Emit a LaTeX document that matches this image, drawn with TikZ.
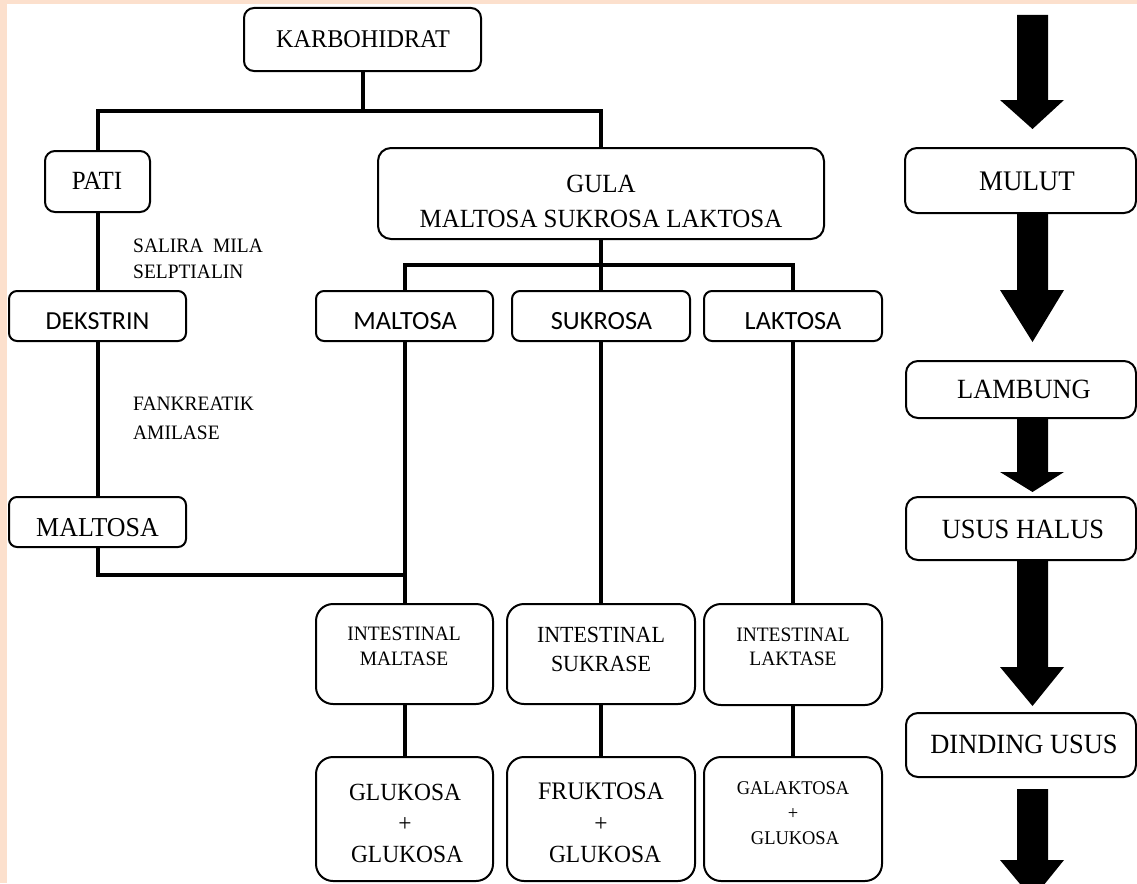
\documentclass[tikz,border=0pt]{standalone}
\usepackage{fontspec}
\setmainfont[FakeStretch=0.95]{Liberation Serif}
\newfontfamily\fsans{Carlito}
\usetikzlibrary{backgrounds}
\definecolor{peach}{RGB}{252,224,205}

% rounded box given by its corners: name, x1, y1, x2, y2, corner radius
\newcommand\rbox[6]{%
  \node[box, rounded corners=#6, minimum width={#4-#2}, minimum height={#5-#3}] (#1) at (#2,#3) {};}
% block arrow of the right column: shaft top, head start, tip
\newcommand\blockarrow[3]{%
  \fill[black] (1017,#1) -- (1048,#1) -- (1048,#2) -- (1064,#2) -- (1032.5,#3)
    -- (1000,#2) -- (1017,#2) -- cycle;}
% serif sizes are given as the width-matched size, enlarged for the narrowed face
\newcommand\fs[1]{\fontsize{\fpeval{#1*1.05}pt}{#1pt}\selectfont}
\newcommand\fss[1]{\fontsize{#1pt}{#1pt}\selectfont}

\begin{document}
\begin{tikzpicture}[x=1pt,y=-1pt,
  box/.style={draw=black, fill=white, line width=2pt, inner sep=0pt, outer sep=0pt, anchor=north west},
  txt/.style={inner sep=0pt, anchor=base},
  lbl/.style={inner sep=0pt, anchor=base west, font=\fs{19.5}},
  conn/.style={draw=black, line width=4pt, line join=miter}]
\useasboundingbox (0,0) rectangle (1137,883);
\clip (0,0) rectangle (1137,883);

% boxes of the classification tree
\rbox{kar}{244}{8}{481}{71}{10pt}
\rbox{pati}{45}{151}{150}{212}{10pt}
\rbox{gula}{378}{148}{824}{239}{13pt}
\rbox{dek}{9}{291}{186}{341}{8pt}
\rbox{malL}{9}{497}{186}{547}{8pt}
\rbox{malt}{316}{291}{493}{341}{8pt}
\rbox{sukr}{512}{291}{690}{341}{8pt}
\rbox{lakt}{704}{291}{882}{341}{8pt}
\rbox{im}{316}{604}{493}{704}{17pt}
\rbox{is}{507}{604}{695}{704}{17pt}
\rbox{il}{704}{604}{882}{705}{17pt}
\rbox{gg}{316}{757}{493}{881}{17pt}
\rbox{fg}{507}{757}{695}{881}{17pt}
\rbox{gl}{704}{757}{882}{881}{17pt}

% boxes of the digestive route
\rbox{mulut}{905}{148}{1136}{213}{12pt}
\rbox{lambung}{906}{361}{1136}{418}{12pt}
\rbox{usus}{906}{497}{1136}{560}{12pt}
\rbox{dinding}{906}{713}{1136}{777}{12pt}

% texts
\node[txt, font=\fs{24.3}] (karT) at (363,48) {KARBOHIDRAT};
\node[txt, font=\fs{25}] (patiT) at (97,189) {PATI};
\node[txt, font=\fs{25}] (gulaT1) at (601,192) {GULA};
\node[txt, font=\fs{25}] (gulaT2) at (601,227) {MALTOSA SUKROSA LAKTOSA};
\node[lbl] (enz1a) at (133,252) {SALIRA\ \ MILA};
\node[lbl] (enz1b) at (133,278) {SELPTIALIN};
\node[lbl] (enz2a) at (133,410) {FANKREATIK};
\node[lbl] (enz2b) at (133,439) {AMILASE};
\node[txt, font=\fsans\fss{26}] (dekT) at (97.5,329) {DEKSTRIN};
\node[txt, font=\fs{26}] (malLT) at (97.5,536) {MALTOSA};
\node[txt, font=\fsans\fss{26.3}] (maltT) at (405,329) {MALTOSA};
\node[txt, font=\fsans\fss{26.3}] (sukrT) at (601.5,329) {SUKROSA};
\node[txt, font=\fsans\fss{26.3}] (laktT) at (793,329) {LAKTOSA};
\node[txt, font=\fs{19.5}] (imT1) at (404,640) {INTESTINAL};
\node[txt, font=\fs{19.5}] (imT2) at (404,665) {MALTASE};
\node[txt, font=\fs{22}] (isT1) at (601,642) {INTESTINAL};
\node[txt, font=\fs{22}] (isT2) at (601,671) {SUKRASE};
\node[txt, font=\fs{19.5}] (ilT1) at (793,641) {INTESTINAL};
\node[txt, font=\fs{19.5}] (ilT2) at (793,665) {LAKTASE};
\node[txt, font=\fs{23.5}] (ggT1) at (405,800) {GLUKOSA};
\node[txt, font=\fs{23.5}] (ggT2) at (405,831) {+};
\node[txt, font=\fs{23.5}] (ggT3) at (407,862) {GLUKOSA};
\node[txt, font=\fs{24}] (fgT1) at (601,799) {FRUKTOSA};
\node[txt, font=\fs{23.5}] (fgT2) at (601,831) {+};
\node[txt, font=\fs{23.5}] (fgT3) at (605,862) {GLUKOSA};
\node[txt, font=\fs{18.5}] (glT1) at (793,794) {GALAKTOSA};
\node[txt, font=\fs{18.5}] (glT2) at (793,819) {+};
\node[txt, font=\fs{18.5}] (glT3) at (795,844) {GLUKOSA};
\node[txt, font=\fs{27}] (mulT) at (1027,190) {MULUT};
\node[txt, font=\fs{26.5}] (lamT) at (1024,398) {LAMBUNG};
\node[txt, font=\fs{26.5}] (usT) at (1023,538) {USUS HALUS};
\node[txt, font=\fs{26.5}] (dinT) at (1024,753) {DINDING USUS};

\begin{pgfonlayer}{background}
  \fill[white] (0,0) rectangle (1137,883);
  \fill[peach] (0,0) rectangle (1137,4);
  \fill[peach] (0,0) rectangle (7,883);
  % levels of the tree
  \coordinate (y111) at (0,111);
  \coordinate (y265) at (0,265);
  \coordinate (y575) at (0,575);
  \coordinate (split1) at (kar.south |- y111);
  \coordinate (split2) at (gula.south |- y265);
  \coordinate (join1) at (malt.south |- y575);
  \draw[conn] (kar.south) -- (split1);
  \draw[conn] (pati.north) |- (split1) -| (gula.north);
  \draw[conn] (gula.south) -- (split2);
  \draw[conn] (malt.north) |- (split2) -| (lakt.north);
  \draw[conn] (split2) -- (sukr.north);
  \draw[conn] (pati.south) -- (dek.north);
  \draw[conn] (dek.south) -- (malL.north);
  \draw[conn] (malL.south) |- (join1);
  \draw[conn] (malt.south) -- (im.north);
  \draw[conn] (sukr.south) -- (is.north);
  \draw[conn] (lakt.south) -- (il.north);
  \draw[conn] (im.south) -- (gg.north);
  \draw[conn] (is.south) -- (fg.north);
  \draw[conn] (il.south) -- (gl.north);
  % digestive route arrows
  \blockarrow{15}{100}{129}
  \blockarrow{213}{290}{342}
  \blockarrow{418}{472}{492}
  \blockarrow{560}{667}{706}
  \blockarrow{789}{860}{899}
\end{pgfonlayer}
\end{tikzpicture}
\end{document}
